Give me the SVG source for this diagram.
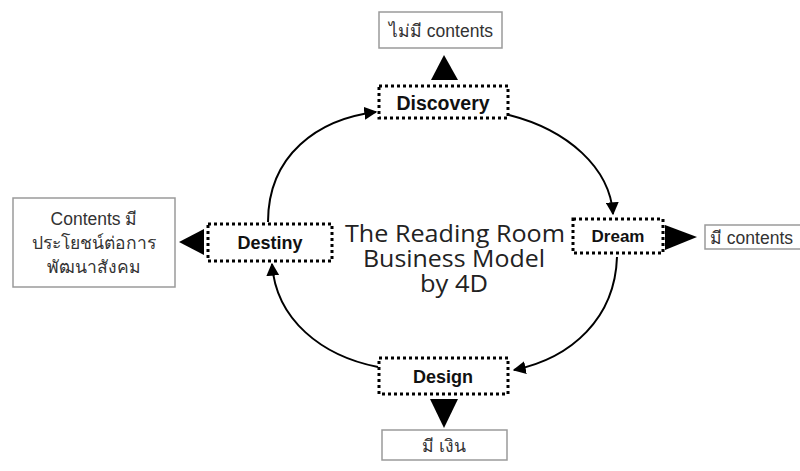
<svg xmlns="http://www.w3.org/2000/svg" width="800" height="471" viewBox="0 0 800 471">
<defs>
<style>
.node rect{fill:#fff;stroke:#000;stroke-width:3;stroke-dasharray:3 3}
.node text{font-family:"Liberation Sans",Arial,sans-serif;font-weight:bold;font-size:18px;fill:#111;text-anchor:middle}
.out rect{fill:#fff;stroke:#9a9a9a;stroke-width:1.5}
.out text{font-family:"Liberation Sans","Noto Sans",sans-serif;font-size:17.5px;fill:#333;text-anchor:middle}
.tri{fill:#000}
.conn path{fill:none;stroke:#000;stroke-width:2;marker-end:url(#ah)}
.title{font-family:"Open Sans","Noto Sans",sans-serif;font-size:24px;fill:#222;text-anchor:middle}
</style>
<marker id="ah" viewBox="0 0 10 10" refX="9" refY="5" markerWidth="6.5" markerHeight="6.5" markerUnits="strokeWidth" orient="auto">
<path d="M0,0 L10,5 L0,10 Z" fill="#000"/>
</marker>
</defs>
<rect width="800" height="471" fill="#fff"/>

<g id="connectors" class="conn">
<path d="M268,222 C268,155 318,119 376,112"/>
<path d="M509,115 C568,130 610,168 613,214"/>
<path d="M617,257 C615,318 572,358 514,370"/>
<path d="M378,367 C322,356 276,320 272,264"/>
</g>

<g id="discovery" class="node">
<rect x="379" y="86" width="129" height="32"/>
<text x="443" y="110" style="font-size:19.5px">Discovery</text>
</g>
<g id="dream" class="node">
<rect x="573" y="219" width="90" height="34"/>
<text x="618" y="242" style="font-size:17px">Dream</text>
</g>
<g id="design" class="node">
<rect x="379" y="358" width="129" height="36"/>
<text x="443" y="383">Design</text>
</g>
<g id="destiny" class="node">
<rect x="208" y="224" width="124" height="37"/>
<text x="270" y="249">Destiny</text>
</g>

<g id="title">
<text class="title" x="455" y="242" textLength="220" lengthAdjust="spacingAndGlyphs">The Reading Room</text>
<text class="title" x="454" y="267" textLength="182" lengthAdjust="spacingAndGlyphs">Business Model</text>
<text class="title" x="454" y="292" textLength="68" lengthAdjust="spacingAndGlyphs">by 4D</text>
</g>

<g id="out-top" class="out">
<rect x="379" y="12" width="123" height="36"/>
<text x="441" y="37">ไม่มี contents</text>
<polygon class="tri" points="444,55 431,80 458,80"/>
</g>
<g id="out-right" class="out">
<rect x="705" y="225" width="100" height="24"/>
<text x="710" y="244" style="text-anchor:start">มี contents</text>
<polygon class="tri" points="697,237 665,225 665,250"/>
</g>
<g id="out-bottom" class="out">
<rect x="382" y="430" width="125" height="30"/>
<text x="444" y="452">มี เงิน</text>
<polygon class="tri" points="444,428 430,399 458,399"/>
</g>
<g id="out-left" class="out">
<rect x="13" y="198" width="162" height="89"/>
<text x="94" y="225">Contents มี</text>
<text x="94" y="249">ประโยชน์ต่อการ</text>
<text x="94" y="273">พัฒนาสังคม</text>
<polygon class="tri" points="179,242 204,229 204,255"/>
</g>
</svg>
